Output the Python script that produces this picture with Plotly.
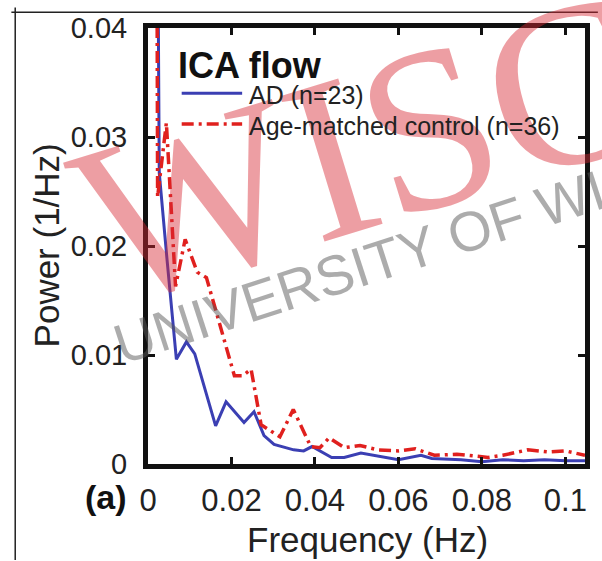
import plotly.graph_objects as go

# ---- data ----
ad_freq = [0.0020, 0.0027, 0.0045, 0.0068, 0.0092, 0.0112, 0.0162, 0.0187, 0.0230, 0.0254,
           0.0278, 0.0302, 0.0349, 0.0373, 0.0393, 0.0440, 0.0470, 0.0510, 0.0600, 0.0654,
           0.0680, 0.0750, 0.0800, 0.0850, 0.0900, 0.0950, 0.1000, 0.1047]
ad_power = [0.0700, 0.0267, 0.0190, 0.0096, 0.0112, 0.0101, 0.0035, 0.0057, 0.0038, 0.0048,
            0.0026, 0.0018, 0.0013, 0.0012, 0.0016, 0.0006, 0.0006, 0.0010, 0.0004, 0.0008,
            0.0005, 0.0004, 0.0002, 0.0004, 0.0003, 0.0004, 0.0003, 0.0003]

ctl_freq = [0.0020, 0.0023, 0.0044, 0.0066, 0.0089, 0.0118, 0.0140, 0.0207, 0.0227, 0.0247,
            0.0271, 0.0316, 0.0348, 0.0390, 0.0412, 0.0434, 0.0470, 0.0508, 0.0550, 0.0600,
            0.0640, 0.0686, 0.0740, 0.0790, 0.0815, 0.0850, 0.0910, 0.0960, 0.1000, 0.1047]
ctl_power = [0.0700, 0.0245, 0.0313, 0.0163, 0.0206, 0.0176, 0.0171, 0.0081, 0.0081, 0.0087,
             0.0036, 0.0025, 0.0050, 0.0016, 0.0015, 0.0024, 0.0015, 0.0017, 0.0013, 0.0012,
             0.0014, 0.0008, 0.0009, 0.0007, 0.0006, 0.0008, 0.0013, 0.0011, 0.0012, 0.0008]

x_ticks = [0, 0.02, 0.04, 0.06, 0.08, 0.1]
x_ticktext = ["0", "0.02", "0.04", "0.06", "0.08", "0.1"]
y_ticks = [0, 0.01, 0.02, 0.03, 0.04]
y_ticktext = ["0", "0.01", "0.02", "0.03", "0.04"]

legend_title = "ICA flow"
ad_label = "AD (n=23)"
ctl_label = "Age-matched control (n=36)"

watermark_main = "WISCO"
watermark_sub = "UNIVERSITY OF WISCONSIN"

# ---- layout geometry (pixels) ----
W, H = 602, 561
L, R, T, B = 148, 589, 23, 464
PW, PH = R - L, B - T

def px(x):
    return (x - L) / PW

def py(y):
    return (B - y) / PH

BLUE = "#3b3fb3"
RED = "#e0201e"
FONT = "Liberation Sans, Arial, sans-serif"
DASH = "12px,5px,3px,5px"

fig = go.Figure()
fig.add_trace(go.Scatter(x=ad_freq, y=ad_power, mode="lines", name=ad_label,
                         line=dict(color=BLUE, width=3), showlegend=False))
fig.add_trace(go.Scatter(x=ctl_freq, y=ctl_power, mode="lines", name=ctl_label,
                         line=dict(color=RED, width=3.5, dash=DASH),
                         showlegend=False))

shapes = [
    # legend samples
    dict(type="line", xref="paper", yref="paper", x0=px(182), x1=px(243), y0=py(89), y1=py(89),
         line=dict(color=BLUE, width=3)),
    dict(type="line", xref="paper", yref="paper", x0=px(182), x1=px(243), y0=py(120), y1=py(120),
         line=dict(color=RED, width=3.5, dash=DASH)),
]

annotations = [
    # outer thin frame
    dict(text="", xref="paper", yref="paper", x=px(602), y=py(7), ax=-588, ay=0,
         showarrow=True, arrowhead=0, arrowwidth=1.5, arrowcolor="#222",
         standoff=0, startstandoff=0),
    dict(text="", xref="paper", yref="paper", x=px(14), y=py(561), ax=0, ay=-554,
         showarrow=True, arrowhead=0, arrowwidth=1.5, arrowcolor="#222",
         standoff=0, startstandoff=0),
    # watermarks
    dict(text=watermark_main, xref="paper", yref="paper", x=px(445), y=py(120),
         showarrow=False, textangle=-17,
         font=dict(family="Liberation Serif, Times New Roman, serif", size=232,
                   color="rgba(214,40,50,0.45)"),
         xanchor="center", yanchor="middle"),
    dict(text=watermark_sub, xref="paper", yref="paper", x=px(484), y=py(225),
         showarrow=False, textangle=-18,
         font=dict(family=FONT, size=56, color="rgba(90,90,90,0.5)"),
         xanchor="center", yanchor="middle"),
    # legend texts
    dict(text="<b>" + legend_title + "</b>", xref="paper", yref="paper", x=px(176), y=py(61),
         showarrow=False, xanchor="left", yanchor="middle",
         font=dict(family=FONT, size=36, color="#111")),
    dict(text=ad_label, xref="paper", yref="paper", x=px(248), y=py(91), showarrow=False,
         xanchor="left", yanchor="middle", font=dict(family=FONT, size=25, color="#222")),
    dict(text=ctl_label, xref="paper", yref="paper", x=px(248), y=py(122), showarrow=False,
         xanchor="left", yanchor="middle", font=dict(family=FONT, size=25, color="#222")),
    # axis titles
    dict(text="Power (1/Hz)", xref="paper", yref="paper", x=px(46), y=py(243), showarrow=False,
         textangle=-90, xanchor="center", yanchor="middle",
         font=dict(family=FONT, size=35, color="#222")),
    dict(text="Frequency (Hz)", xref="paper", yref="paper", x=px(370), y=py(540), showarrow=False,
         xanchor="center", yanchor="middle", font=dict(family=FONT, size=35, color="#222")),
    dict(text="<b>(a)</b>", xref="paper", yref="paper", x=px(106), y=py(497), showarrow=False,
         xanchor="center", yanchor="middle", font=dict(family=FONT, size=34, color="#111")),
]

fig.update_layout(
    width=W, height=H,
    margin=dict(l=L, r=W - R, t=T, b=H - B, pad=0),
    paper_bgcolor="white", plot_bgcolor="white",
    shapes=shapes, annotations=annotations,
    xaxis=dict(range=[0, 0.1047], tickvals=x_ticks, ticktext=x_ticktext,
               showgrid=False, zeroline=False, showline=True, linecolor="#111", linewidth=5,
               mirror="allticks", ticks="inside", ticklen=7, tickwidth=3, tickcolor="#111",
               tickfont=dict(family=FONT, size=31, color="#222"), ticklabelstandoff=5),
    yaxis=dict(range=[0, 0.04], tickvals=y_ticks, ticktext=y_ticktext,
               showgrid=False, zeroline=False, showline=True, linecolor="#111", linewidth=5,
               mirror="allticks", ticks="inside", ticklen=7, tickwidth=3, tickcolor="#111",
               tickfont=dict(family=FONT, size=29, color="#222"), ticklabelstandoff=10),
)

fig.write_html("out.html")
